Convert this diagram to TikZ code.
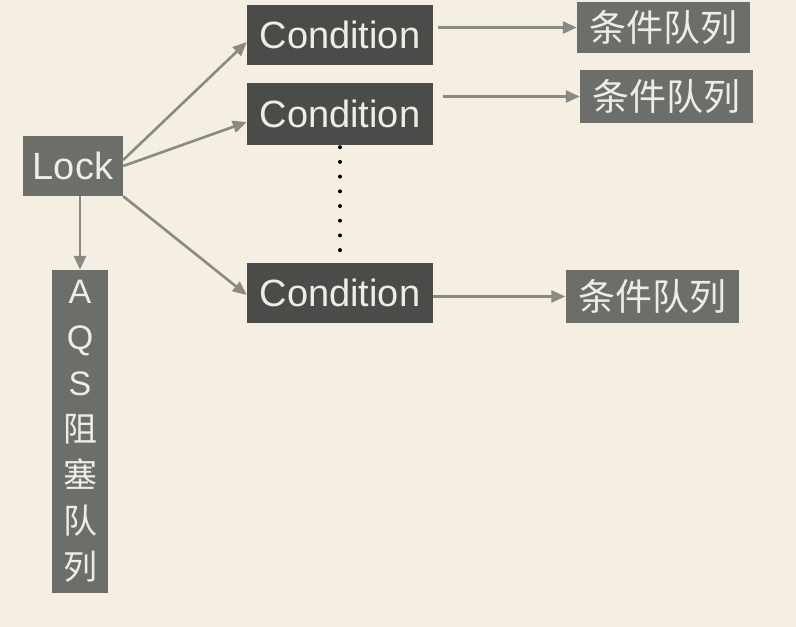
\documentclass[tikz,border=0pt]{standalone}
\usepackage{fontspec}
\setmainfont{Liberation Sans}
\newfontfamily\cjk{Noto Sans CJK SC}
\usetikzlibrary{arrows.meta,calc}
\definecolor{bgc}{HTML}{F4EFE2}
\definecolor{darkbox}{HTML}{4B4B49}
\definecolor{midbox}{HTML}{6D6D69}
\definecolor{txtc}{HTML}{EDEDE8}
\definecolor{arrc}{HTML}{8A8A85}
\tikzset{
  condbox/.style={fill=darkbox,text=txtc,inner sep=0pt,minimum width=186pt,minimum height=60pt,font=\fontsize{38}{40}\selectfont},
  graybox/.style={fill=midbox,text=txtc,inner sep=0pt},
  queuebox/.style={graybox,minimum width=173pt,minimum height=53pt,font=\cjk\fontsize{37}{39}\selectfont},
  arr/.style={draw=arrc,line width=2.6pt,-{Triangle[length=14pt,width=12pt]},color=arrc},
}
\begin{document}
\begin{tikzpicture}[x=1pt,y=-1pt]
\fill[bgc] (0,0) rectangle (796,627);
\useasboundingbox (0,0) rectangle (796,627);
\node[graybox,minimum width=100pt,minimum height=60pt,font=\fontsize{38}{40}\selectfont] (lock) at (73,166) {Lock};
\node[condbox] (c1) at (340,35) {Condition};
\node[condbox,minimum height=62pt] (c2) at (340,114) {Condition};
\node[condbox] (c3) at (340,292.5) {Condition};
\node[queuebox,minimum height=51pt] (q1) at (663.5,27.5) {条件队列};
\node[queuebox] (q2) at (666.5,96.5) {条件队列};
\node[queuebox] (q3) at (652,296.5) {条件队列};
\node[graybox,minimum width=56pt,minimum height=323pt,font=\fontsize{34}{46}\selectfont,align=center] (aqs) at (80,431.5)
  {A\\Q\\S\\{\cjk 阻}\\{\cjk 塞}\\{\cjk 队}\\{\cjk 列}};
\draw[arr] ([yshift=6pt]lock.east) -- ([yshift=-7pt]c1.west);
\draw[arr] (lock.east) -- ([yshift=-8pt]c2.west);
\draw[arr] (lock.south east) -- ([yshift=-2.5pt]c3.west);
\draw[arr] (lock.south -| aqs.north) -- (aqs.north);
\draw[arr] ([xshift=5pt]c1.east |- q1.west) -- (q1.west);
\draw[arr] ([xshift=10pt]c2.east |- q2.west) -- (q2.west);
\draw[arr] (c3.east |- q3.west) -- (q3.west);
\draw[black,line width=4pt,line cap=round,dash pattern=on 0pt off 14.7pt] ([yshift=-2pt]c2.south) -- ([yshift=2pt]c3.north);
\end{tikzpicture}
\end{document}
